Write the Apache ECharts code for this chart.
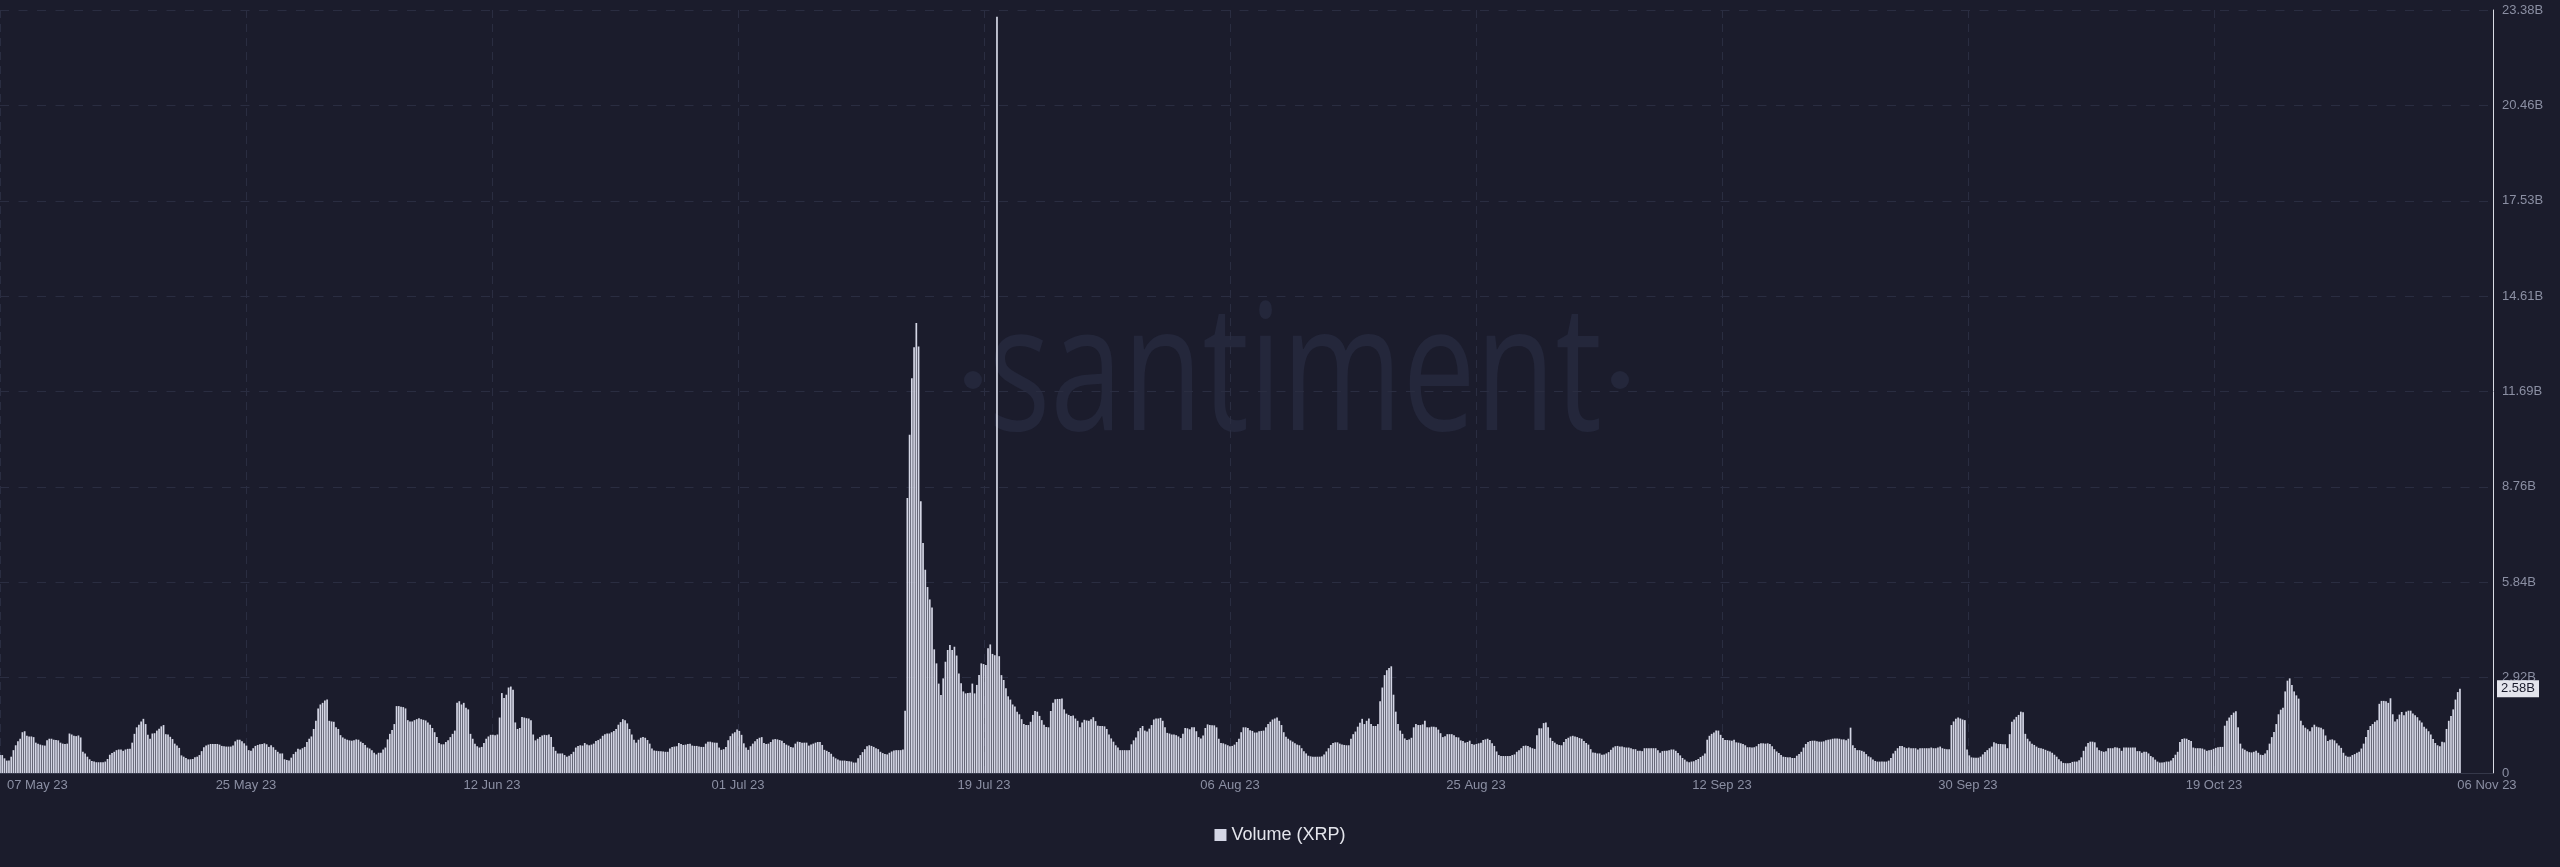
<!DOCTYPE html>
<html>
<head>
<meta charset="utf-8">
<script src="https://cdn.jsdelivr.net/npm/echarts@6/dist/echarts.min.js"></script>
<style>
html,body{margin:0;padding:0;background:#1b1c2c;}
#chart{width:2560px;height:867px;}
</style>
</head>
<body>
<div id="chart"></div>
<script>
// ---- data ----
const seriesName = 'Volume (XRP)';
const stepHours = 4;              // one bar every 4 hours, starting 07 May 23
const tickIntervalHours = 439.2;  // spacing of the date ticks
const axisMaxHours = 4451;
const xTickLabels = ['07 May 23','25 May 23','12 Jun 23','01 Jul 23','19 Jul 23','06 Aug 23','25 Aug 23','12 Sep 23','30 Sep 23','19 Oct 23','06 Nov 23'];
const yMax = 23.386e9;
const yTickLabels = ['0','2.92B','5.84B','8.76B','11.69B','14.61B','17.53B','20.46B','23.38B'];
const lastValueLabel = '2.58B';
// volume in billions XRP, 4h bars
const volumeB = [
0.55,0.55,0.45,0.38,0.38,0.50,0.70,0.85,0.97,1.05,
1.25,1.28,1.14,1.12,1.12,1.10,0.93,0.90,0.87,0.85,
0.84,1.00,1.05,1.05,1.02,1.01,1.00,0.93,0.90,0.89,
0.90,1.21,1.18,1.14,1.13,1.15,1.09,0.65,0.60,0.50,
0.42,0.37,0.35,0.33,0.33,0.33,0.33,0.35,0.43,0.56,
0.61,0.65,0.70,0.72,0.72,0.68,0.72,0.74,0.74,0.93,
1.20,1.40,1.48,1.58,1.66,1.50,1.17,1.05,1.21,1.22,
1.30,1.36,1.43,1.47,1.19,1.18,1.11,1.04,0.90,0.84,
0.77,0.54,0.50,0.46,0.42,0.42,0.43,0.48,0.50,0.55,
0.67,0.79,0.84,0.87,0.89,0.89,0.89,0.89,0.87,0.83,
0.82,0.81,0.81,0.81,0.84,0.97,1.02,1.02,0.97,0.91,
0.84,0.70,0.68,0.76,0.83,0.86,0.88,0.89,0.91,0.88,
0.80,0.85,0.79,0.71,0.65,0.60,0.60,0.42,0.40,0.38,
0.47,0.58,0.65,0.74,
0.72,0.76,0.80,0.95,1.05,1.12,
1.35,1.60,1.98,2.10,2.15,2.22,2.25,1.60,1.58,1.57,
1.40,1.35,1.16,1.09,1.05,1.02,1.00,0.99,1.00,1.03,
1.02,0.96,0.92,0.86,0.78,0.75,0.70,0.62,0.57,0.62,
0.62,0.72,0.78,1.03,1.20,1.32,1.50,2.05,2.05,2.03,
2.02,1.98,1.62,1.58,1.58,1.62,1.65,1.68,1.65,1.63,
1.61,1.55,1.48,1.38,1.25,1.10,0.92,0.88,0.88,0.95,
1.00,1.10,1.20,1.30,2.15,2.20,2.10,2.15,2.00,1.95,
1.20,1.05,0.90,0.82,0.78,0.80,0.92,1.05,1.12,1.17,
1.17,1.16,1.18,1.70,2.45,2.30,2.40,2.62,2.65,2.55,
1.55,1.35,1.38,1.72,1.70,1.68,1.67,1.62,1.18,1.00,
1.05,1.10,1.15,1.17,1.16,1.18,1.10,0.80,0.68,0.60,
0.60,0.60,0.55,0.50,0.53,0.58,0.65,0.78,0.83,0.85,
0.84,0.92,0.87,0.85,0.87,0.90,0.98,1.01,1.05,1.14,
1.19,1.21,1.21,1.25,1.29,1.35,1.48,1.56,1.65,1.62,
1.52,1.35,1.18,1.02,0.93,1.02,1.08,1.10,1.08,1.01,
0.90,0.75,0.69,0.68,0.67,0.67,0.66,0.65,0.65,0.75,
0.80,0.81,0.82,0.92,0.89,0.86,0.87,0.89,0.90,0.84,
0.83,0.83,0.81,0.80,0.80,0.90,0.96,0.96,0.94,0.93,
0.93,0.78,0.71,0.73,0.80,1.00,1.13,1.21,1.25,1.33,
1.29,1.17,0.91,0.78,0.71,0.82,0.90,0.97,1.04,1.08,
1.10,0.92,0.89,0.90,0.95,1.03,1.04,1.03,1.01,0.99,
0.92,0.87,0.84,0.80,0.78,0.90,0.96,0.95,0.93,0.93,
0.93,0.84,0.87,0.90,0.93,0.95,0.95,0.86,0.71,0.68,
0.64,0.59,0.50,0.45,0.41,0.38,0.38,0.38,0.37,0.36,
0.35,0.32,0.32,0.45,0.55,0.64,0.73,0.82,0.85,0.83,
0.80,0.76,0.73,0.65,0.61,0.58,0.57,0.62,0.66,0.69,
0.70,0.70,0.70,0.72,
1.91,8.43,10.37,12.10,13.05,13.79,
13.07,8.33,7.05,6.23,5.70,5.32,5.07,3.79,3.36,2.74,
2.39,2.90,3.41,3.77,3.92,3.77,3.87,3.60,3.05,2.75,
2.50,2.44,2.45,2.46,2.74,2.44,2.70,3.00,3.36,3.34,
3.31,3.82,3.94,3.65,3.61,23.18,3.58,3.00,2.85,2.60,
2.35,2.25,2.10,2.04,1.88,1.80,1.65,1.50,1.47,1.47,
1.57,1.78,1.90,1.88,1.75,1.62,1.48,1.41,1.40,1.90,
2.15,2.26,2.27,2.27,2.28,1.95,1.82,1.78,1.75,1.76,
1.67,1.60,1.40,1.55,1.63,1.61,1.60,1.65,1.71,1.59,
1.45,1.44,1.44,1.43,1.35,1.18,1.06,0.96,0.85,0.78,
0.70,0.70,0.70,0.70,0.70,0.88,1.00,1.09,1.28,1.38,
1.44,1.30,1.27,1.36,
1.47,1.64,1.67,1.67,1.69,1.60,
1.40,1.23,1.21,1.18,1.18,1.16,1.12,1.07,1.20,1.38,
1.37,1.34,1.40,1.40,1.28,1.10,1.06,1.15,1.38,1.49,
1.47,1.46,1.46,1.40,1.05,0.92,0.91,0.88,0.85,0.82,
0.83,0.87,0.95,1.05,1.25,1.40,1.40,1.38,1.31,1.29,
1.24,1.24,1.28,1.29,1.30,1.40,1.50,1.57,1.64,1.67,
1.70,1.60,1.47,1.25,1.11,1.05,1.00,0.96,0.91,0.87,
0.85,0.76,0.67,0.60,0.53,0.51,0.50,0.50,0.50,0.50,
0.51,0.57,0.66,0.76,0.86,0.92,0.94,0.94,0.90,0.87,
0.86,0.85,0.85,1.05,1.19,1.27,1.42,1.54,1.66,1.50,
1.60,1.67,1.50,1.44,1.44,1.50,2.20,2.62,3.00,3.15,
3.22,3.27,2.40,1.88,1.50,1.30,1.20,1.06,1.01,1.03,
1.08,1.40,1.50,1.47,1.47,1.49,1.60,1.40,1.40,1.42,
1.42,1.40,1.33,1.22,1.10,1.13,1.19,1.19,1.19,1.16,
1.10,1.09,1.00,0.98,0.93,0.95,0.99,0.89,0.87,0.89,
0.91,0.93,1.01,1.03,1.05,1.01,0.91,0.83,0.66,0.55,
0.52,0.52,0.52,0.52,0.52,0.55,0.57,0.65,0.70,0.76,
0.83,0.84,0.83,0.79,0.76,0.74,1.16,1.37,1.37,
1.53,
1.55,1.40,1.08,0.98,0.93,0.88,0.86,0.85,0.95,1.04,
1.08,1.12,1.14,1.12,1.10,1.07,1.05,0.98,0.92,0.87,
0.73,0.63,0.62,0.60,0.60,0.56,0.57,0.60,0.64,0.71,
0.78,0.82,0.83,0.81,0.81,0.79,0.78,0.78,0.76,0.73,
0.73,0.68,0.68,0.67,0.76,0.76,0.76,0.76,0.76,0.76,
0.70,0.62,0.67,0.68,0.68,0.70,0.72,0.72,0.68,0.61,
0.54,0.46,0.41,0.35,0.33,0.35,0.36,0.40,0.43,0.49,
0.53,0.60,1.02,1.14,1.20,1.24,1.30,1.30,1.17,1.07,
1.01,1.01,1.00,0.99,1.02,0.94,0.93,0.91,0.89,0.85,
0.79,0.79,0.78,0.79,0.82,0.89,0.91,0.91,0.90,0.91,
0.89,0.82,0.73,0.66,0.61,0.55,0.50,0.49,0.48,0.48,
0.46,0.46,0.53,0.58,0.65,0.78,0.89,0.95,0.98,0.99,
0.99,0.97,0.96,0.96,0.97,1.00,1.02,1.03,1.05,1.06,
1.06,1.05,1.03,1.03,1.00,1.05,1.39,0.85,0.77,0.70,
0.70,0.68,0.65,0.58,0.51,0.48,0.41,0.37,0.35,0.35,
0.35,0.35,0.35,0.38,0.46,0.60,0.68,0.76,0.83,0.83,
0.79,0.76,0.78,0.76,0.76,0.76,0.72,0.76,0.76,0.76,
0.76,0.76,0.78,0.76,0.76,0.78,0.81,0.76,0.74,0.73,
0.73,1.47,1.58,1.66,1.70,1.67,1.64,1.62,0.72,0.54,
0.48,0.47,0.47,0.47,0.50,0.57,0.64,0.70,0.76,0.81,
0.94,0.91,0.89,0.89,0.88,0.88,0.76,1.19,1.57,1.64,
1.72,1.78,
1.88,1.86,1.20,1.05,0.97,0.90,0.86,0.81,
0.77,0.76,0.74,0.71,0.68,0.66,0.62,0.56,0.50,0.42,
0.36,0.31,0.30,0.30,0.31,0.34,0.35,0.35,0.39,0.48,
0.68,0.81,0.92,0.96,0.96,0.94,0.78,0.70,0.67,0.65,
0.67,0.76,0.76,0.76,0.79,0.78,0.76,0.68,0.78,0.78,
0.78,0.78,0.78,0.78,0.67,0.67,0.62,0.65,0.65,0.60,
0.52,0.48,0.41,0.35,0.32,0.32,0.33,0.35,0.35,0.38,
0.46,0.56,0.65,0.95,1.04,1.06,1.05,1.01,0.98,0.78,
0.76,0.76,0.76,0.75,0.72,0.68,0.70,0.71,0.74,0.77,
0.79,0.80,0.80,1.45,1.60,1.70,1.78,1.85,1.89,1.40,
0.90,0.75,0.71,0.67,0.64,0.63,0.65,0.68,0.62,0.56,
0.55,0.60,0.70,0.90,1.10,1.26,1.50,1.80,1.94,2.00,
2.50,2.83,2.90,2.70,2.50,2.38,2.28,1.60,1.46,1.39,
1.34,1.28,1.40,1.48,1.42,1.40,1.39,1.34,1.15,0.98,
1.02,1.03,1.00,0.91,0.84,0.77,0.62,0.53,0.50,0.50,
0.55,0.58,0.62,0.65,0.75,0.90,1.10,1.32,1.44,1.50,
1.57,1.62,2.12,2.21,2.21,2.20,2.15,2.29,1.80,1.58,
1.65,1.79,1.87,1.77,1.88,1.91,1.91,1.82,1.77,1.71,
1.61,1.55,1.42,1.36,1.28,1.18,1.04,0.92,0.85,0.82,
0.96,0.94,1.35,1.60,1.75,1.95,2.25,2.48,2.58
];

// ---- chart ----
const barData = volumeB.map((v, i) => [i * stepHours, v * 1e9]);
const lastPoint = barData[barData.length - 1];
const font = "'Liberation Sans', Arial, sans-serif";
const labelGray = '#8b8fa3';
const gridColor = '#2a2d41';
const watermarkColor = '#24273b';

const vGridColors = xTickLabels.map((_, k) => k < xTickLabels.length - 1 ? gridColor : 'rgba(0,0,0,0)');
vGridColors.push('rgba(0,0,0,0)');

const chart = echarts.init(document.getElementById('chart'), null, {renderer: 'canvas'});
chart.setOption({
  backgroundColor: '#1b1c2c',
  animation: false,
  textStyle: {fontFamily: font},
  grid: {left: 0, right: 67, top: 10, bottom: 94, containLabel: false, outerBoundsMode: 'none'},
  legend: {
    data: [seriesName], left: 'center', top: 821, icon: 'rect',
    itemWidth: 12, itemHeight: 12, itemGap: 10,
    textStyle: {color: '#e4e5ec', fontSize: 18, fontFamily: font},
    selectedMode: false
  },
  graphic: [
    {type: 'text', x: 1295, y: 380, scaleX: 0.74, z: 0, silent: true,
     style: {text: 'santiment', fill: watermarkColor, font: '400 176px "Open Sans", sans-serif', textAlign: 'center', textVerticalAlign: 'middle'}},
    {type: 'circle', shape: {cx: 973, cy: 380, r: 9}, style: {fill: watermarkColor}, z: 0, silent: true},
    {type: 'circle', shape: {cx: 1620, cy: 380, r: 9}, style: {fill: watermarkColor}, z: 0, silent: true}
  ],
  xAxis: {
    type: 'value', min: 0, max: axisMaxHours, interval: tickIntervalHours,
    axisLine: {show: true, onZero: false, lineStyle: {color: '#35384a', width: 1}},
    axisTick: {show: false},
    splitLine: {show: true, lineStyle: {color: vGridColors, type: [8, 6], width: 1}},
    axisLabel: {
      show: true, color: labelGray, fontSize: 13, margin: 6, fontFamily: font,
      showMinLabel: true, showMaxLabel: false, hideOverlap: false, alignMinLabel: 'left',
      formatter: function (value) {
        const k = Math.round(value / tickIntervalHours);
        if (Math.abs(value - k * tickIntervalHours) > 0.5 || k >= xTickLabels.length) return '';
        if (k === 0) return '{f|' + xTickLabels[k] + '}';
        if (k === xTickLabels.length - 1) return '{l|' + xTickLabels[k] + '}';
        return xTickLabels[k];
      },
      rich: {
        f: {color: labelGray, fontSize: 13, fontFamily: font, padding: [0, 0, 0, 7]},
        l: {color: labelGray, fontSize: 13, fontFamily: font, padding: [0, 0, 0, 54]}
      }
    }
  },
  yAxis: {
    type: 'value', position: 'right', min: 0, max: yMax, interval: yMax / 8,
    axisLine: {show: true, onZero: false, lineStyle: {color: '#d9dbe5', width: 1}},
    axisTick: {show: false},
    splitLine: {show: true, lineStyle: {color: gridColor, type: [9, 9.5], width: 1}},
    axisLabel: {
      show: true, color: labelGray, fontSize: 13, margin: 9, fontFamily: font,
      formatter: function (value) {
        const k = Math.round(value / (yMax / 8));
        return yTickLabels[k] !== undefined ? yTickLabels[k] : '';
      }
    }
  },
  series: [{
    name: seriesName,
    type: 'bar',
    data: barData,
    barWidth: 1.7,
    z: 2,
    itemStyle: {color: '#d4d6e5'},
    emphasis: {disabled: true},
    markPoint: {
      silent: true,
      symbol: 'rect',
      symbolSize: [42, 17],
      symbolOffset: [25, 0],
      itemStyle: {color: '#e3e4ec'},
      label: {show: true, position: 'inside', color: '#1b1c2c', fontSize: 13, fontFamily: font, formatter: lastValueLabel},
      data: [{coord: [axisMaxHours, lastPoint[1]]}]
    }
  }]
});
</script>
</body>
</html>
